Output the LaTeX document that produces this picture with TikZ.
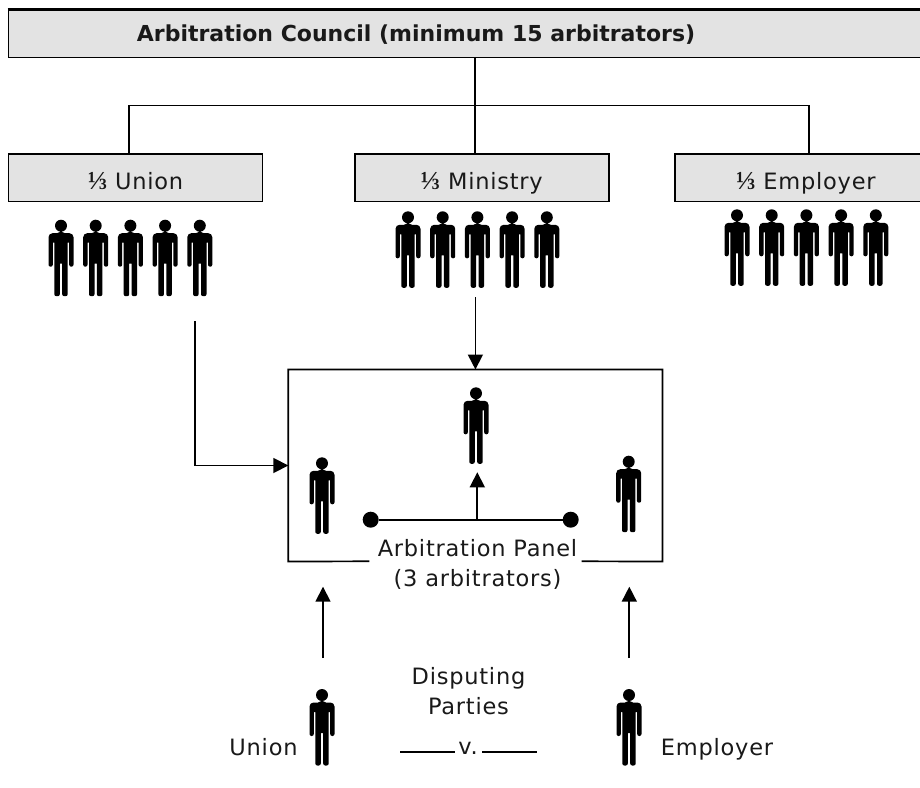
\documentclass[tikz,border=0pt]{standalone}
\usepackage{fontspec}
\setmainfont{DejaVu Sans}
\newfontfamily\regfont[LetterSpace=3.4]{DejaVu Sans}
\newfontfamily\fracfont{Liberation Serif}
\newcommand{\third}{{\fracfont\bfseries\fontsize{26}{28}\selectfont ⅓}}
\usetikzlibrary{arrows.meta}
\tikzset{
  x=1pt,y=-1pt,
  titlebox/.style={draw=black,fill=black!11,line width=1.8pt,inner sep=0pt},
  wire/.style={line width=1.7pt,draw=black},
  arrowwire/.style={wire,-{Triangle[length=15pt,width=15pt]}},
  lbl/.style={inner sep=0pt,anchor=base,text=black!90,font=\regfont\fontsize{22.5}{26}\selectfont,align=center},
  person/.pic={
    \fill[black] (0,0) circle (6);
    \fill[black] (0,7.5) [rounded corners=4pt] -- (12.5,7.5) [rounded corners=2pt] -- (12.5,41) -- (8.2,41) [sharp corners] -- (8.2,17) -- (6.7,17) [rounded corners=2pt] -- (6.7,70.5) -- (1.2,70.5) [sharp corners] -- (1.2,38) -- (-1.2,38) [rounded corners=2pt] -- (-1.2,70.5) -- (-6.7,70.5) [sharp corners] -- (-6.7,17) -- (-8.2,17) [rounded corners=2pt] -- (-8.2,41) -- (-12.5,41) [rounded corners=4pt] -- (-12.5,7.5) -- (0,7.5) -- cycle;
  },
}
\begin{document}
\begin{tikzpicture}
\useasboundingbox (0,0) rectangle (920,787);
% boxes
\node[titlebox,minimum width=916pt,minimum height=47.5pt] (council) at (466.5,33.75) {};
\draw[line width=2.6pt] (council.north west) -- (council.north east);
\node[titlebox,minimum width=254pt,minimum height=47.5pt] (union) at (135.5,177.75) {};
\node[titlebox,minimum width=254pt,minimum height=47.5pt] (ministry) at (482,177.75) {};
\node[titlebox,minimum width=254pt,minimum height=47.5pt] (employer) at (802,177.75) {};
\node[lbl,font=\fontsize{22}{26}\selectfont\bfseries] (councillabel) at (416,41.7) {Arbitration Council (minimum 15 arbitrators)};
\node[lbl] (unionlabel) at (135.5,189) {\third{} Union};
\node[lbl] (ministrylabel) at (481.7,189) {\third{} Ministry};
\node[lbl] (employerlabel) at (805.8,189) {\third{} Employer};
% tree
\coordinate (bar) at (475.3,105.5);
\coordinate (barL) at (128.7,105.5);
\coordinate (barR) at (809,105.5);
\draw[wire] (bar |- council.south) -- (bar |- ministry.north);
\draw[wire] (barL |- union.north) -- (barL) -- (barR) -- (barR |- employer.north);
% people rows
\foreach \n/\x in {1/61,2/95.7,3/130.4,4/165.1,5/199.8}{\pic (u\n) at (\x,225.7) {person};}
\foreach \n/\x in {1/408,2/442.7,3/477.4,4/512.1,5/546.8}{\pic (m\n) at (\x,217.3) {person};}
\foreach \n/\x in {1/737,2/771.7,3/806.4,4/841.1,5/875.8}{\pic (e\n) at (\x,215.3) {person};}
% panel
\node[minimum width=373.8pt,minimum height=191.6pt,inner sep=0pt] (panel) at (475.4,465.5) {};
\coordinate (gapL) at (369.3,561.3);
\coordinate (gapR) at (581.7,561.3);
\draw[wire] (gapL) -- (panel.south west) -- (panel.north west) -- (panel.north east) -- (panel.south east) -- (gapR);
\pic (pm) at (476,393.3) {person};
\pic (pl) at (322,463.3) {person};
\pic (pr) at (628.7,461.7) {person};
\node[lbl] (panellabel1) at (477.5,556.5) {Arbitration Panel};
\node[lbl] (panellabel2) at (477.5,586) {(3 arbitrators)};
% chair selection
\node[circle,fill=black,minimum size=16pt,inner sep=0pt] (dotL) at (370.7,519.7) {};
\node[circle,fill=black,minimum size=16pt,inner sep=0pt] (dotR) at (570.7,519.7) {};
\draw[wire] (dotL) -- (dotR);
\coordinate (chairbase) at (477.3,519.7);
\coordinate (chairtip) at (477.3,472.3);
\draw[arrowwire] (chairbase) -- (chairtip);
% arrows to panel
\coordinate (ministryfrom) at (475.4,297.3);
\draw[arrowwire] (ministryfrom) -- (panel.north);
\coordinate (unionfrom) at (195,321);
\draw[arrowwire] (unionfrom) |- (panel.west);
\coordinate (partyL) at (323,658);
\coordinate (tipL) at (323,586.7);
\coordinate (partyR) at (629.3,658);
\coordinate (tipR) at (629.3,586.7);
\draw[arrowwire] (partyL) -- (tipL);
\draw[arrowwire] (partyR) -- (tipR);
% parties
\pic (pu) at (322,695) {person};
\pic (pe) at (629,695) {person};
\node[lbl] (unionparty) at (263.5,755.5) {Union};
\node[lbl] (employerparty) at (717,755.5) {Employer};
\node[lbl] (disputing) at (468.5,684.5) {Disputing};
\node[lbl] (parties) at (468.5,714) {Parties};
\node[lbl] (versus) at (468,754) {v.};
\coordinate (l1a) at (400,752.3);
\coordinate (l1b) at (455,752.3);
\coordinate (l2a) at (482,752.3);
\coordinate (l2b) at (537,752.3);
\draw[wire] (l1a) -- (l1b);
\draw[wire] (l2a) -- (l2b);
\end{tikzpicture}
\end{document}
